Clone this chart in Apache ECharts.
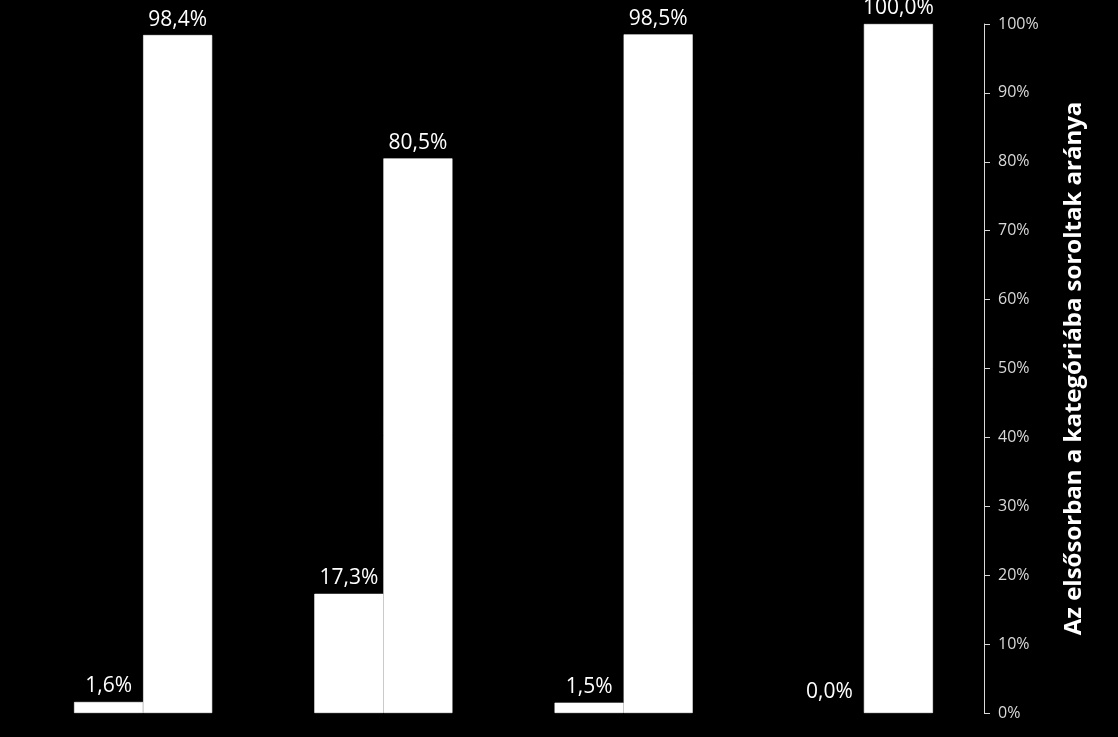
<!DOCTYPE html>
<html>
<head>
<meta charset="utf-8">
<script src="https://cdn.jsdelivr.net/npm/echarts@6/dist/echarts.min.js"></script>
<style>
html,body{margin:0;padding:0;background:#000;}
#chart{width:1118px;height:737px;}
</style>
</head>
<body>
<div id="chart"></div>
<script>
const categories = ['A', 'B', 'C', 'D'];
const series1 = [1.6, 17.3, 1.5, 0.0];
const series2 = [98.4, 80.5, 98.5, 100.0];
const yTicks = [0, 10, 20, 30, 40, 50, 60, 70, 80, 90, 100];
const axisTitle = 'Az elsősorban a kategóriába soroltak aránya';

const fmt = v => v.toFixed(1).replace('.', ',') + '%';
const labelStyle = {
  show: true,
  position: 'top',
  distance: 5,
  color: '#ffffff',
  fontFamily: 'Open Sans',
  fontSize: 21,
  formatter: p => fmt(p.value)
};
const barStyle = { color: '#ffffff', borderColor: '#ffffff', borderWidth: 0.6 };
const toItems = arr => arr.map(v => v === 0
  ? { value: v, itemStyle: { borderWidth: 0 }, label: { distance: 10 } }
  : { value: v });

const chart = echarts.init(document.getElementById('chart'));
chart.setOption({
  backgroundColor: '#000000',
  animation: false,
  grid: { left: 23, right: 134, top: 24, bottom: 24, containLabel: false },
  xAxis: {
    type: 'category',
    data: categories,
    show: false
  },
  yAxis: {
    type: 'value',
    position: 'right',
    min: yTicks[0],
    max: yTicks[yTicks.length - 1],
    interval: 10,
    name: axisTitle,
    nameLocation: 'middle',
    nameRotate: 90,
    nameGap: 78,
    nameTextStyle: { color: '#ffffff', fontFamily: 'Open Sans', fontWeight: 'bold', fontSize: 24 },
    axisLine: { show: true, lineStyle: { color: '#d9d9d9', width: 1 } },
    axisTick: { show: true, length: 6, lineStyle: { color: '#d9d9d9' } },
    axisLabel: { color: '#d9d9d9', fontFamily: 'Open Sans', fontSize: 16, margin: 14, formatter: v => v + '%' },
    splitLine: { show: false }
  },
  series: [
    { type: 'bar', data: toItems(series1), barGap: '0%', barCategoryGap: '42.5%', itemStyle: barStyle, label: labelStyle },
    { type: 'bar', data: toItems(series2), barGap: '0%', barCategoryGap: '42.5%', itemStyle: barStyle, label: labelStyle }
  ]
});
</script>
</body>
</html>
